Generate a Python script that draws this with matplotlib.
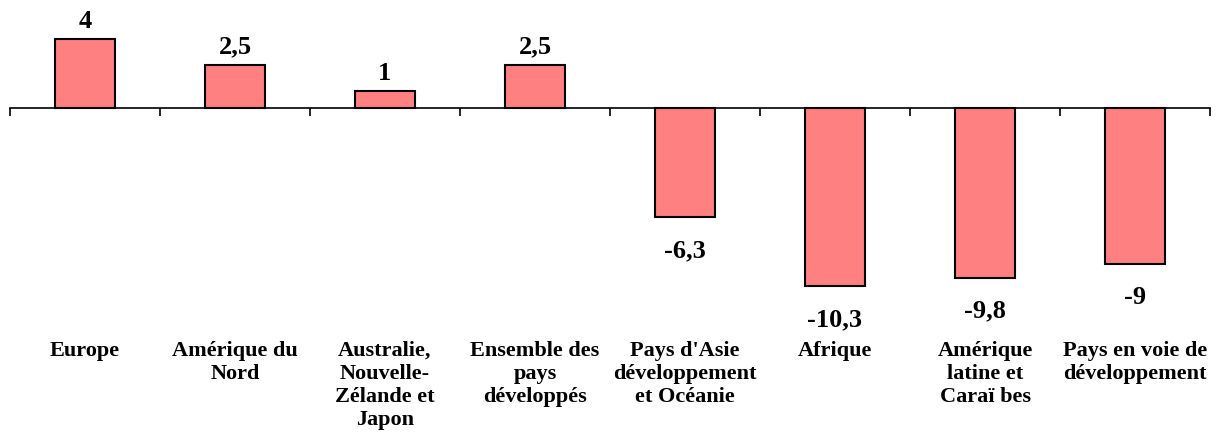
import matplotlib.pyplot as plt
import numpy as np

plt.rcParams['font.family'] = ['Liberation Serif', 'DejaVu Serif']

categories = ["Europe", "Amérique du\nNord", "Australie,\nNouvelle-\nZélande et\nJapon",
              "Ensemble des\npays\ndéveloppés", "Pays d'Asie\ndéveloppement\net Océanie",
              "Afrique", "Amérique\nlatine et\nCaraï bes", "Pays en voie de\ndéveloppement"]
values = [4, 2.5, 1, 2.5, -6.3, -10.3, -9.8, -9]
value_labels = ["4", "2,5", "1", "2,5", "-6,3", "-10,3", "-9,8", "-9"]

px = 17.3  # pixels per unit
fig = plt.figure(figsize=(12.31, 4.46), dpi=100)
ax = fig.add_axes([10 / 1231, 0, 1200 / 1231, 1])
ax.set_xlim(-0.5, len(values) - 0.5)
ax.set_ylim(-(446 - 108) / px, 108 / px)

x = np.arange(len(values))
ax.bar(x, values, width=0.4, color='#FF8080', edgecolor='black', linewidth=1.5, zorder=2)

for xi, v, lab in zip(x, values, value_labels):
    if v >= 0:
        ax.text(xi, v + 11 / px, lab, ha='center', va='baseline', fontsize=19, fontweight='bold')
    else:
        ax.text(xi, v - 40 / px, lab, ha='center', va='baseline', fontsize=19, fontweight='bold')

for xi, cat in zip(x, categories):
    ax.text(xi, -(341 - 108) / px, cat, ha='center', va='top', fontsize=16,
            fontweight='bold', linespacing=1.2)

for s in ['top', 'right', 'left']:
    ax.spines[s].set_visible(False)
ax.spines['bottom'].set_position(('data', 0))
ax.spines['bottom'].set_linewidth(1.2)
ax.spines['bottom'].set_zorder(3)
ax.set_xticks(np.arange(-0.5, len(values), 1.0))
ax.tick_params(axis='x', direction='out', length=6, width=1.2, labelbottom=False)
ax.set_yticks([])

fig.savefig('out.png', dpi=100)
